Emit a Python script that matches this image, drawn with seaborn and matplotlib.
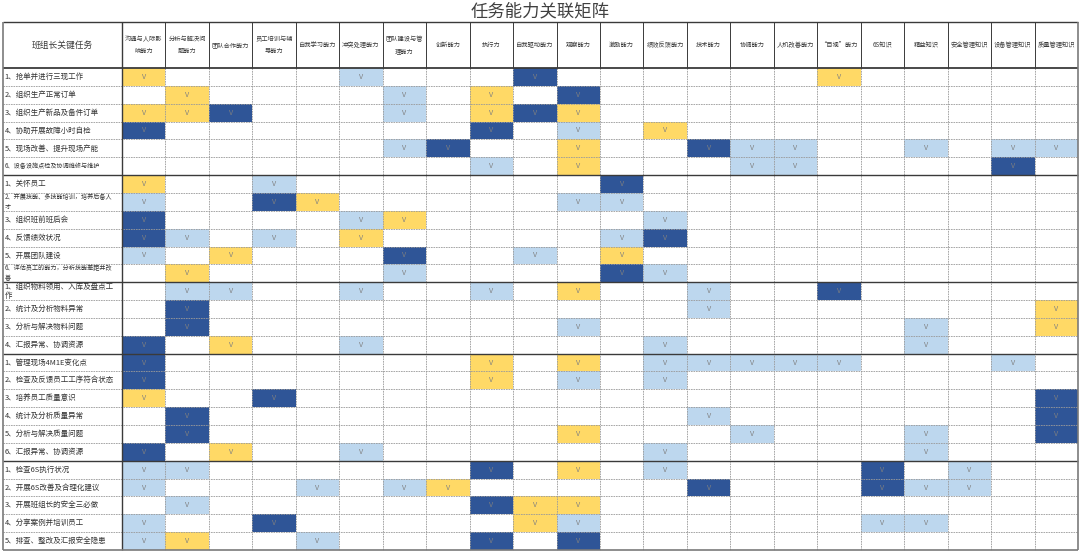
import numpy as np
import pandas as pd
import matplotlib
matplotlib.use("Agg")
import matplotlib.pyplot as plt
import seaborn as sns
from matplotlib.colors import ListedColormap

sns.set_theme(style="white")
plt.rcParams['font.family'] = ['Noto Sans CJK SC', 'DejaVu Sans']

title = "任务能力关联矩阵"
corner_label = "班组长关键任务"

abilities = [
    "沟通与人际影\n响能力", "分析与解决问\n题能力", "团队合作能力", "员工培训与辅\n导能力",
    "自我学习能力", "冲突处理能力", "团队建设与管\n理能力", "创新能力", "执行力",
    "自我驱动能力", "观察能力", "激励能力", "绩效反馈能力", "技术能力", "协调能力",
    "人机改善能力", "“目视”能力", "6S知识", "精益知识", "安全管理知识",
    "设备管理知识", "质量管理知识",
]

tasks = [
    "1、抢单并进行三现工作", "2、组织生产正常订单", "3、组织生产新品及备件订单",
    "4、协助开展故障小时自检", "5、现场改善、提升现场产能", "6、设备设施点检及协调维修与维护",
    "1、关怀员工", "2、开展技能、多技能培训，培养后备人\n才", "3、组织班前班后会",
    "4、反馈绩效状况", "5、开展团队建设", "6、评估员工的能力，分析技能差距并改\n善",
    "1、组织物料领用、入库及盘点工\n作", "2、统计及分析物料异常", "3、分析与解决物料问题",
    "4、汇报异常、协调资源",
    "1、管理现场4M1E变化点", "2、检查及反馈员工工序符合状态", "3、培养员工质量意识",
    "4、统计及分析质量异常", "5、分析与解决质量问题", "6、汇报异常、协调资源",
    "1、检查6S执行状况", "2、开展6S改善及合理化建议", "3、开展班组长的安全三必做",
    "4、分享案例并培训员工", "5、排查、整改及汇报安全隐患",
]
small_label_rows = [5, 7, 11]

# 0 = blank, 1 = light blue, 2 = yellow, 3 = dark blue
production_marks = [
    [2,0,0,0,0,1,0,0,0,3,0,0,0,0,0,0,2,0,0,0,0,0],
    [0,2,0,0,0,0,1,0,2,0,3,0,0,0,0,0,0,0,0,0,0,0],
    [2,2,3,0,0,0,1,0,2,3,2,0,0,0,0,0,0,0,0,0,0,0],
    [3,0,0,0,0,0,0,0,3,0,1,0,2,0,0,0,0,0,0,0,0,0],
    [0,0,0,0,0,0,1,3,0,0,2,0,0,3,1,1,0,0,1,0,1,1],
    [0,0,0,0,0,0,0,0,1,0,2,0,0,0,1,1,0,0,0,0,3,0],
]
staff_marks = [
    [2,0,0,1,0,0,0,0,0,0,0,3,0,0,0,0,0,0,0,0,0,0],
    [1,0,0,3,2,0,0,0,0,0,1,1,0,0,0,0,0,0,0,0,0,0],
    [3,0,0,0,0,1,2,0,0,0,0,0,1,0,0,0,0,0,0,0,0,0],
    [3,1,0,1,0,2,0,0,0,0,0,1,3,0,0,0,0,0,0,0,0,0],
    [1,0,2,0,0,0,3,0,0,1,0,2,0,0,0,0,0,0,0,0,0,0],
    [0,2,0,0,0,0,1,0,0,0,0,3,1,0,0,0,0,0,0,0,0,0],
]
material_marks = [
    [0,1,1,0,0,1,0,0,1,0,2,0,0,1,0,0,3,0,0,0,0,0],
    [0,3,0,0,0,0,0,0,0,0,0,0,0,1,0,0,0,0,0,0,0,2],
    [0,3,0,0,0,0,0,0,0,0,1,0,0,0,0,0,0,0,1,0,0,2],
    [3,0,2,0,0,1,0,0,0,0,0,0,1,0,0,0,0,0,1,0,0,0],
]
quality_marks = [
    [3,0,0,0,0,0,0,0,2,0,2,0,1,1,1,1,1,0,0,0,1,0],
    [3,0,0,0,0,0,0,0,2,0,1,0,1,0,0,0,0,0,0,0,0,0],
    [2,0,0,3,0,0,0,0,0,0,0,0,0,0,0,0,0,0,0,0,0,3],
    [0,3,0,0,0,0,0,0,0,0,0,0,0,1,0,0,0,0,0,0,0,3],
    [0,3,0,0,0,0,0,0,0,0,2,0,0,0,1,0,0,0,1,0,0,3],
    [3,0,2,0,0,1,0,0,0,0,0,0,1,0,0,0,0,0,1,0,0,0],
]
safety_marks = [
    [1,1,0,0,0,0,0,0,3,0,2,0,1,0,0,0,0,3,0,1,0,0],
    [1,0,0,0,1,0,1,2,0,0,0,0,0,3,0,0,0,3,1,1,0,0],
    [0,1,0,0,0,0,0,0,3,2,2,0,0,0,0,0,0,0,0,0,0,0],
    [1,0,0,3,0,0,0,0,0,2,1,0,0,0,0,0,0,1,1,0,0,0],
    [1,2,0,0,1,0,0,0,3,0,3,0,0,0,0,0,0,0,0,0,0,0],
]
group_sizes = [len(production_marks), len(staff_marks), len(material_marks),
               len(quality_marks), len(safety_marks)]

marks = np.array(production_marks + staff_marks + material_marks + quality_marks + safety_marks)
df = pd.DataFrame(marks, index=tasks, columns=abilities)
annot = np.where(df.values > 0, "V", "")

colors = ["#FFFFFF", "#BDD7EE", "#FFD966", "#2F5597"]
cmap = ListedColormap(colors)

W, H = 1080, 553
fig = plt.figure(figsize=(W / 100, H / 100), dpi=100)
left_px, right_px, top_px, bot_px = 122, 1078, 68, 550
ax = fig.add_axes([left_px / W, 1 - bot_px / H, (right_px - left_px) / W, (bot_px - top_px) / H])

sns.heatmap(df, ax=ax, cmap=cmap, vmin=-0.5, vmax=3.5, cbar=False,
            annot=annot, fmt="", annot_kws={"color": "#808080", "fontsize": 5.2},
            xticklabels=False, yticklabels=False, linewidths=0)
ax.set_xlabel("")
ax.set_ylabel("")

nrows, ncols = df.shape
cw = (right_px - left_px) / ncols
rh = (bot_px - top_px) / nrows
x_left = -(left_px - 3) / cw
y_top = -(top_px - 22) / rh

dash = (0, (2, 1))
grey = "#9a9a9a"
dark = "#3a3a3a"

# body vertical dashed lines
ax.vlines(np.arange(1, ncols), 0, nrows, colors=grey, linestyles=dash, linewidth=0.6, clip_on=False)
# header vertical solid lines
ax.vlines(np.arange(1, ncols), y_top, 0, colors=dark, linewidth=0.7, clip_on=False)
# group boundaries
bounds = np.cumsum(group_sizes)[:-1]
inner = [r for r in range(1, nrows) if r not in set(bounds)]
ax.hlines(inner, x_left, ncols, colors=grey, linestyles=dash, linewidth=0.6, clip_on=False)
ax.hlines(bounds, x_left, ncols, colors=dark, linewidth=1.0, clip_on=False)
# header bottom and label column line
ax.hlines([0], x_left, ncols, colors=dark, linewidth=1.3, clip_on=False)
ax.vlines([0], y_top, nrows, colors=dark, linewidth=1.0, clip_on=False)
# outer border
ax.hlines([y_top], x_left, ncols, colors=dark, linewidth=1.0, clip_on=False)
ax.hlines([nrows], x_left, ncols, colors="#7a7a7a", linewidth=1.2, clip_on=False)
ax.vlines([x_left], y_top, nrows, colors="#7a7a7a", linewidth=1.2, clip_on=False)
ax.vlines([ncols], y_top, nrows, colors="#7a7a7a", linewidth=1.2, clip_on=False)

# header texts
for j, name in enumerate(abilities):
    ax.text(j + 0.5, y_top / 2, name, ha="center", va="center", fontsize=4.5,
            color="#3a3a3a", linespacing=1.7, clip_on=False)
ax.text(x_left / 2, y_top / 2, corner_label, ha="center", va="center", fontsize=6.3,
        color="#3a3a3a", clip_on=False)

# row labels
for i, name in enumerate(tasks):
    fs = 4.4 if i in small_label_rows else 5.4
    ax.text(x_left + 0.04, i + 0.5, name, ha="left", va="center", fontsize=fs,
            color="#333333", linespacing=1.25, clip_on=False)

fig.text(0.5, 1 - 11 / H, title, ha="center", va="center", fontsize=12.5, color="#404040")

fig.savefig("out.png", dpi=100)
